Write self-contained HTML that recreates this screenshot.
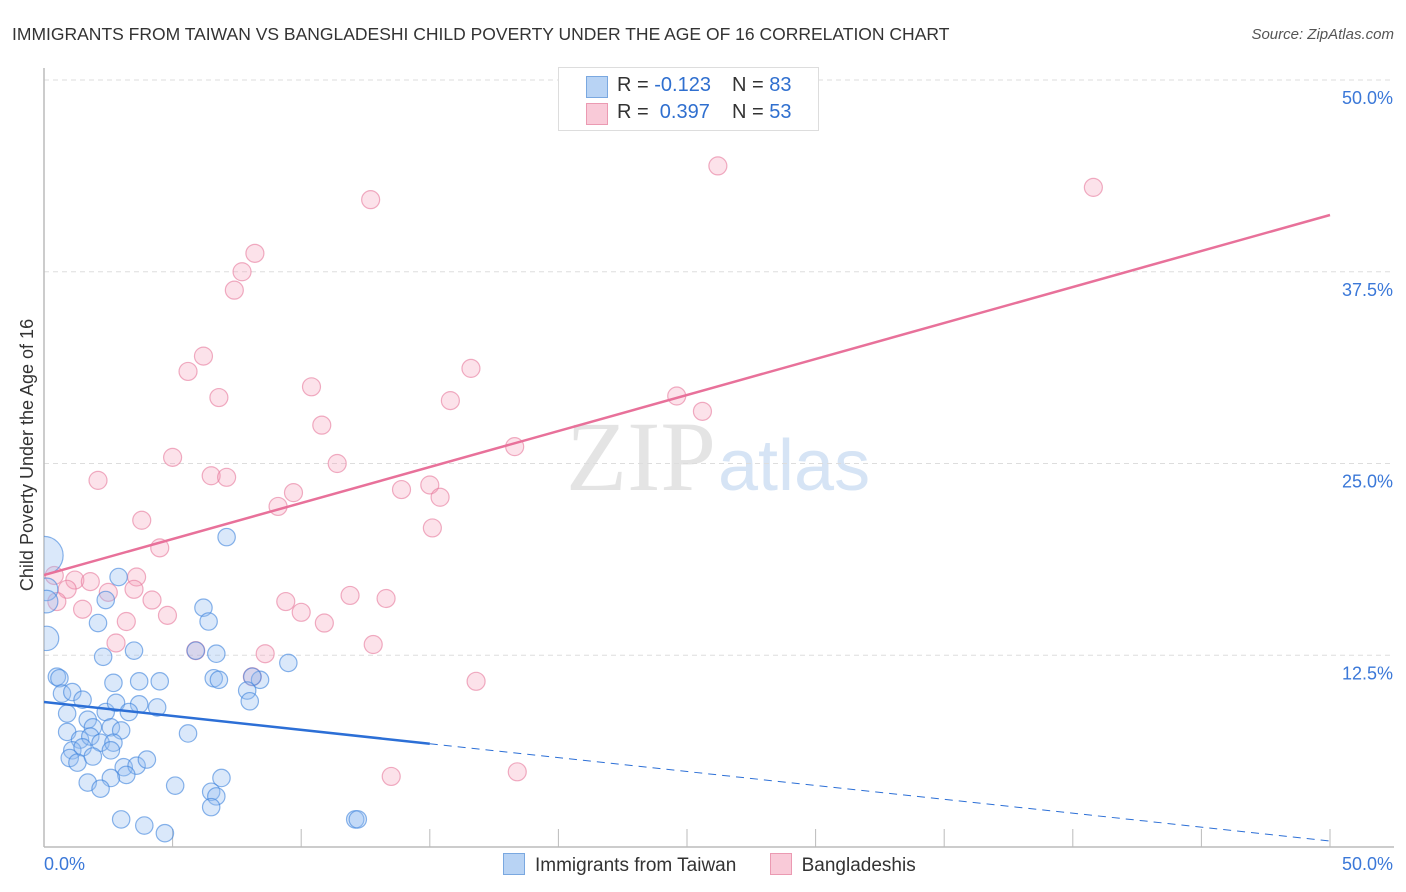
<!DOCTYPE html>
<html><head><meta charset="utf-8"><style>
body{margin:0;background:#fff;font-family:"Liberation Sans",sans-serif;}
#wrap{position:relative;width:1406px;height:892px;overflow:hidden}
</style></head><body>
<div id="wrap">
<svg id="svg" width="1406" height="892" xmlns="http://www.w3.org/2000/svg">
<text x="12" y="40" font-size="17.5" fill="#333">IMMIGRANTS FROM TAIWAN VS BANGLADESHI CHILD POVERTY UNDER THE AGE OF 16 CORRELATION CHART</text>
<text x="1394" y="39" font-size="15" fill="#555" font-style="italic" text-anchor="end">Source: ZipAtlas.com</text>
<text x="716" y="490" font-size="100" fill="#e4e4e4" font-family="Liberation Serif,serif" text-anchor="end">ZIP</text>
<text x="718" y="490" font-size="72" fill="#d6e4f5">atlas</text>
<text transform="translate(33,455) rotate(-90)" font-size="18" fill="#333" text-anchor="middle">Child Poverty Under the Age of 16</text>
<g id="grid"></g>
<svg x="44" y="0" width="1362" height="847" viewBox="44 0 1362 847" overflow="hidden"><g id="marks"></g></svg>
</svg>
<div style="position:absolute;left:558px;top:67px;width:259px;height:62px;border:1px solid #ddd;background:#fff;font-size:20px;color:#333">
 <div style="position:absolute;left:27px;top:8px;width:20px;height:20px;background:#b8d3f4;border:1px solid #7aa8e0"></div>
 <div style="position:absolute;left:58px;top:6px">R = <span style="color:#2f6fcf">-0.123</span></div>
 <div style="position:absolute;left:173px;top:6px">N = <span style="color:#2f6fcf">83</span></div>
 <div style="position:absolute;left:27px;top:35px;width:20px;height:20px;background:#f9cad8;border:1px solid #eb9ab2"></div>
 <div style="position:absolute;left:58px;top:33px">R = &nbsp;<span style="color:#2f6fcf">0.397</span></div>
 <div style="position:absolute;left:173px;top:33px">N = <span style="color:#2f6fcf">53</span></div>
</div>
<div style="position:absolute;left:503px;top:853px;font-size:19px;color:#333">
 <span style="display:inline-block;width:20px;height:20px;background:#b8d3f4;border:1px solid #7aa8e0;vertical-align:-4px;margin-right:10px"></span><span>Immigrants from Taiwan</span>
 <span style="display:inline-block;width:20px;height:20px;background:#f9cad8;border:1px solid #eb9ab2;vertical-align:-4px;margin:0 10px 0 28px"></span><span>Bangladeshis</span>
</div>
</div>
<script>
const yTicks=[12.5,25,37.5,50];
const yTickLabels=["12.5%","25.0%","37.5%","50.0%"];
const xTickLabels=["0.0%","50.0%"];
const pinkX=[26.2,40.8,12.7,8.2,7.7,7.4,6.2,5.6,16.6,10.4,6.8,15.8,24.6,25.6,10.8,5.0,18.3,11.4,2.1,6.5,7.1,13.9,15.0,15.4,9.7,9.1,3.8,15.1,4.5,0.4,1.2,1.8,0.9,2.5,3.6,3.5,4.2,1.5,0.5,4.8,10.0,10.9,11.9,13.3,9.4,3.2,2.8,5.9,8.6,12.8,8.1,16.8,13.5,18.4];
const pinkY=[44.4,43.0,42.2,38.7,37.5,36.3,32.0,31.0,31.2,30.0,29.3,29.1,29.4,28.4,27.5,25.4,26.1,25.0,23.9,24.2,24.1,23.3,23.6,22.8,23.1,22.2,21.3,20.8,19.5,17.7,17.4,17.3,16.8,16.6,17.6,16.8,16.1,15.5,16.0,15.1,15.3,14.6,16.4,16.2,16.0,14.7,13.3,12.8,12.6,13.2,11.1,10.8,4.6,4.9];
const blueX=[7.1,0.0,2.9,0.1,0.1,2.4,6.2,6.4,2.1,0.1,3.5,2.3,6.7,5.9,9.5,0.5,0.6,2.7,3.7,4.5,6.6,6.8,8.4,8.1,7.9,8.0,0.7,1.1,1.5,0.9,2.4,2.8,3.7,4.4,3.3,1.7,5.6,0.9,1.9,2.6,3.0,1.4,1.8,2.2,2.7,1.1,1.5,2.6,1.0,1.3,1.9,3.1,3.6,4.0,3.2,2.6,1.7,2.2,5.1,6.9,6.5,6.7,6.5,3.0,3.9,4.7,12.1,12.2];
const blueY=[20.2,19.0,17.6,16.8,16.0,16.1,15.6,14.7,14.6,13.6,12.8,12.4,12.6,12.8,12.0,11.1,11.0,10.7,10.8,10.8,11.0,10.9,10.9,11.1,10.2,9.5,10.0,10.1,9.6,8.7,8.8,9.4,9.3,9.1,8.8,8.3,7.4,7.5,7.8,7.8,7.6,7.0,7.2,6.8,6.8,6.3,6.5,6.3,5.8,5.5,5.9,5.2,5.3,5.7,4.7,4.5,4.2,3.8,4.0,4.5,3.6,3.3,2.6,1.8,1.4,0.9,1.8,1.8];
const blueSize=[1,2.2,1,1.3,1.3,1,1,1,1,1.4,1,1,1,1,1,1,1,1,1,1,1,1,1,1,1,1,1,1,1,1,1,1,1,1,1,1,1,1,1,1,1,1,1,1,1,1,1,1,1,1,1,1,1,1,1,1,1,1,1,1,1,1,1,1,1,1,1,1];
const pinkTrend=[17.73,41.2];
const blueTrend=[9.45,0.39];
const blueSolidEnd=15.0;
const X0=44,X1=1330,Y0=847,Y1=80;
const sx=v=>X0+(v/50)*(X1-X0), sy=v=>Y0-(v/50)*(Y0-Y1);
const NS="http://www.w3.org/2000/svg";
const grid=document.getElementById('grid'),marks=document.getElementById('marks');
function mk(tag,attrs,parent){const e=document.createElementNS(NS,tag);for(const k in attrs)e.setAttribute(k,attrs[k]);parent.appendChild(e);return e;}
yTicks.forEach((t,i)=>{
 const l=mk('line',{x1:X0,x2:1394,y1:sy(t),y2:sy(t),stroke:'#ddd','stroke-dasharray':'5,4'},grid);
 
 
 const tx=mk('text',{x:1393,y:sy(t)+24,'font-size':18,fill:'#3b78d8','text-anchor':'end'},grid);
 tx.textContent=yTickLabels[i];
 
 
});
let ax=mk('line',{x1:X0,x2:X0,y1:68,y2:Y0,stroke:'#bbb','stroke-width':1.5},grid);


ax=mk('line',{x1:X0,x2:1394,y1:Y0,y2:Y0,stroke:'#bbb','stroke-width':1.5},grid);


for(let i=1;i<=10;i++){const t=mk('line',{x1:sx(i*5),x2:sx(i*5),y1:Y0,y2:Y0-18,stroke:'#bbb'},grid);
 
 }
[[0,'start',X0],[50,'end',1393]].forEach((a,i)=>{const t=mk('text',{x:a[2],y:870,'font-size':18,fill:'#3b78d8','text-anchor':a[1]},grid);t.textContent=xTickLabels[i];
 
 });
pinkX.forEach((x,i)=>{const c=mk('circle',{cx:sx(x),cy:sy(pinkY[i]),r:9,fill:'rgba(244,160,185,0.3)',stroke:'rgba(230,120,155,0.6)','stroke-width':1.2},marks);
 
 });
blueX.forEach((x,i)=>{const c=mk('circle',{cx:sx(x),cy:sy(blueY[i]),r:8.7*blueSize[i],fill:'rgba(150,190,240,0.35)',stroke:'rgba(60,130,220,0.6)','stroke-width':1.2},marks);
 
 });
let tl=mk('line',{x1:sx(0),y1:sy(pinkTrend[0]),x2:sx(50),y2:sy(pinkTrend[1]),stroke:'#e8719a','stroke-width':2.5},marks);


const by=x=>blueTrend[0]+(blueTrend[1]-blueTrend[0])*x/50;
tl=mk('line',{x1:sx(0),y1:sy(by(0)),x2:sx(blueSolidEnd),y2:sy(by(blueSolidEnd)),stroke:'#2c6fd6','stroke-width':2.5},marks);


tl=mk('line',{x1:sx(blueSolidEnd),y1:sy(by(blueSolidEnd)),x2:sx(50),y2:sy(by(50)),stroke:'#2c6fd6','stroke-width':1,'stroke-dasharray':'8,6'},marks);


</script>
</body></html>
